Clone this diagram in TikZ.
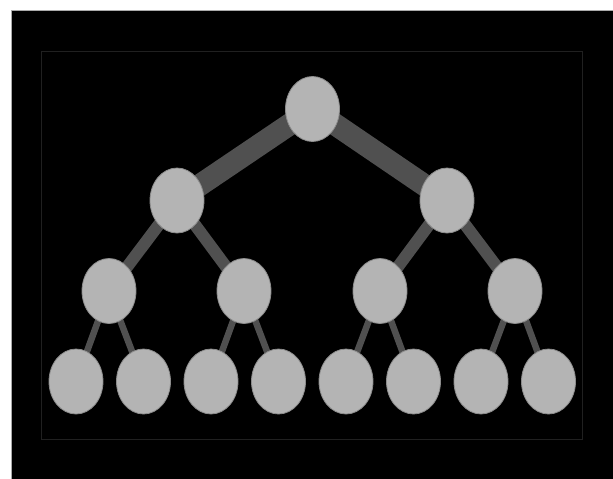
\documentclass[tikz,border=0pt]{standalone}
\usetikzlibrary{shapes.geometric,backgrounds}
\definecolor{nodefill}{RGB}{180,180,180}
\definecolor{nodeline}{RGB}{140,140,140}
\definecolor{edgecol}{RGB}{80,80,80}
\definecolor{framecol}{RGB}{32,32,32}
\definecolor{bordercol}{RGB}{170,170,170}
\begin{document}
\begin{tikzpicture}[x=1pt,y=-1pt,
  treenode/.style={ellipse,draw=nodeline,line width=0.8pt,fill=nodefill,
    minimum width=54pt,minimum height=65pt,inner sep=0pt},
  edgeA/.style={draw=edgecol,line width=22pt},
  edgeB/.style={draw=edgecol,line width=12pt},
  edgeC/.style={draw=edgecol,line width=6.5pt}]
\useasboundingbox (0,0) rectangle (613,479);
% tree nodes
\node[treenode] (r)   at (312.5,109) {};
\node[treenode] (l)   at (177,200.5) {};
\node[treenode] (rr)  at (447,200.5) {};
\node[treenode] (ll)  at (109,291) {};
\node[treenode] (lr)  at (244,291) {};
\node[treenode] (rl)  at (380,291) {};
\node[treenode] (rrr) at (515,291) {};
\node[treenode] (a1) at (76,381.5) {};
\node[treenode] (a2) at (143.5,381.5) {};
\node[treenode] (a3) at (211,381.5) {};
\node[treenode] (a4) at (278.5,381.5) {};
\node[treenode] (a5) at (346,381.5) {};
\node[treenode] (a6) at (413.5,381.5) {};
\node[treenode] (a7) at (481,381.5) {};
\node[treenode] (a8) at (548.5,381.5) {};
\begin{scope}[on background layer]
  % canvas and frame
  \fill[white] (0,0) rectangle (613,479);
  \draw[bordercol,fill=black,line width=1pt] (11.5,10.5) rectangle (630,500);
  \draw[framecol,line width=1pt] (41.5,51.5) rectangle (582.5,439.5);
  % connectors, widths shrinking with depth
  \path[edgeA] (r.center) -- (l.center);
  \path[edgeA] (r.center) -- (rr.center);
  \path[edgeB] (l.center) -- (ll.center);
  \path[edgeB] (l.center) -- (lr.center);
  \path[edgeB] (rr.center) -- (rl.center);
  \path[edgeB] (rr.center) -- (rrr.center);
  \path[edgeC] (ll.center) -- (a1.center);
  \path[edgeC] (ll.center) -- (a2.center);
  \path[edgeC] (lr.center) -- (a3.center);
  \path[edgeC] (lr.center) -- (a4.center);
  \path[edgeC] (rl.center) -- (a5.center);
  \path[edgeC] (rl.center) -- (a6.center);
  \path[edgeC] (rrr.center) -- (a7.center);
  \path[edgeC] (rrr.center) -- (a8.center);
\end{scope}
\end{tikzpicture}
\end{document}
